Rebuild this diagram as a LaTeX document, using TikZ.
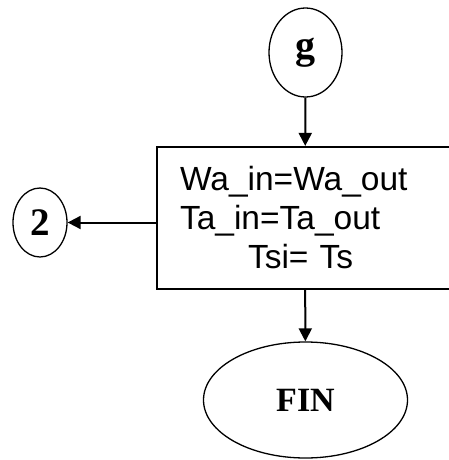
\documentclass[tikz,border=0pt]{standalone}
\usepackage{fontspec}
\setmainfont{Liberation Serif}
\newfontfamily\arialfont{Liberation Sans}
\usetikzlibrary{arrows.meta,shapes.geometric}

\begin{document}
\begin{tikzpicture}[x=1pt,y=-1pt,
		conn/.style={draw,ellipse,line width=1.3pt,inner sep=0pt,font=\bfseries},
		arr/.style={line width=2pt,-{Triangle[length=13pt,width=13pt]}}]
				\clip (0,0) rectangle (449,460);
				
				\node[conn,minimum width=73pt,minimum height=89pt,
					font=\fontsize{40}{40}\bfseries\selectfont] (g) at (305.5,52.5) {g};
				\node[draw,line width=2.2pt,minimum height=142pt,text width=250pt,
					inner xsep=23pt,align=left,
					font=\arialfont\fontsize{33.5}{39}\selectfont] (box) at (305,218)
					{Wa\_in=Wa\_out\\Ta\_in=Ta\_out\\\hspace*{68pt}Tsi= Ts};
				\node[conn,minimum width=54pt,minimum height=69pt,
					font=\fontsize{39}{39}\bfseries\selectfont] (two) at (40,222.5) {2};
				\node[conn,minimum width=204pt,minimum height=116pt,
					font=\fontsize{34}{34}\bfseries\selectfont] (fin) at (305.5,400) {FIN};
				
				\draw[arr] (g) -- (box);
				\draw[arr] (box.west |- two.east) -- (two.east);
				\draw[arr] (box) -- (fin);
			\end{tikzpicture}
\end{document}
